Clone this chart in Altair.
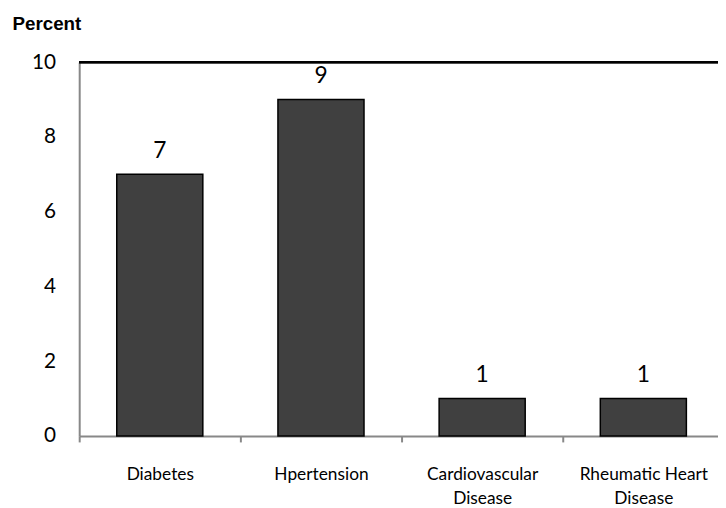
import altair as alt
import pandas as pd

categories = ["Diabetes", "Hpertension", "Cardiovascular Disease", "Rheumatic Heart Disease"]
values = [7, 9, 1, 1]
y_ticks = [0, 2, 4, 6, 8, 10]

df = pd.DataFrame({"cat": categories, "val": values})

label_expr = ("length(datum.label) > 12 ? "
              "[substring(datum.label, 0, lastindexof(datum.label, ' ')), "
              "substring(datum.label, lastindexof(datum.label, ' ') + 1)] : datum.label")

x = alt.X("cat:N", sort=categories, title=None,
          scale=alt.Scale(paddingInner=0, paddingOuter=0, range=[0, 652]),
          axis=alt.Axis(labelAngle=0, tickBand="extent", labelExpr=label_expr,
                        labelFont="Lato", labelFontSize=17.5, labelColor="#000",
                        labelLineHeight=24, labelPadding=24, tickSize=6,
                        tickColor="#888", tickWidth=2, domainColor="#888",
                        domainWidth=2, grid=False))
y = alt.Y("val:Q", title="Percent",
          scale=alt.Scale(domain=[0, 10], nice=False),
          axis=alt.Axis(values=y_ticks, ticks=False, grid=False,
                        labelFont="Lato", labelFontSize=21, labelColor="#000",
                        labelPadding=24, domainColor="#888", domainWidth=2,
                        titleAngle=0, titleX=-68, titleY=-33, titleAlign="left",
                        titleBaseline="alphabetic", titleFont="Liberation Sans",
                        titleFontSize=19, titleFontWeight="bold", titleColor="#000"))

bars = alt.Chart(df).mark_bar(color="#404040", stroke="#000", strokeWidth=1.5,
                              width=alt.RelativeBandSize(0.534)).encode(x=x, y=y)

text = alt.Chart(df).mark_text(font="Lato", fontSize=23, color="#000",
                               baseline="alphabetic", dy=-17).encode(
    x=alt.X("cat:N", sort=categories), y=alt.Y("val:Q"), text=alt.Text("val:Q"))

top = alt.Chart(df).mark_rule(color="#000", strokeWidth=2).encode(y=alt.datum(10))

chart = alt.layer(bars, text, top).properties(
    width=646, height=378,
    autosize=alt.AutoSizeParams(type="none"),
    padding={"left": 72, "top": 52, "right": 0, "bottom": 70},
).configure_view(stroke=None).configure(background="white")

chart.save("out.html", embed_options={"renderer": "svg", "actions": False})
